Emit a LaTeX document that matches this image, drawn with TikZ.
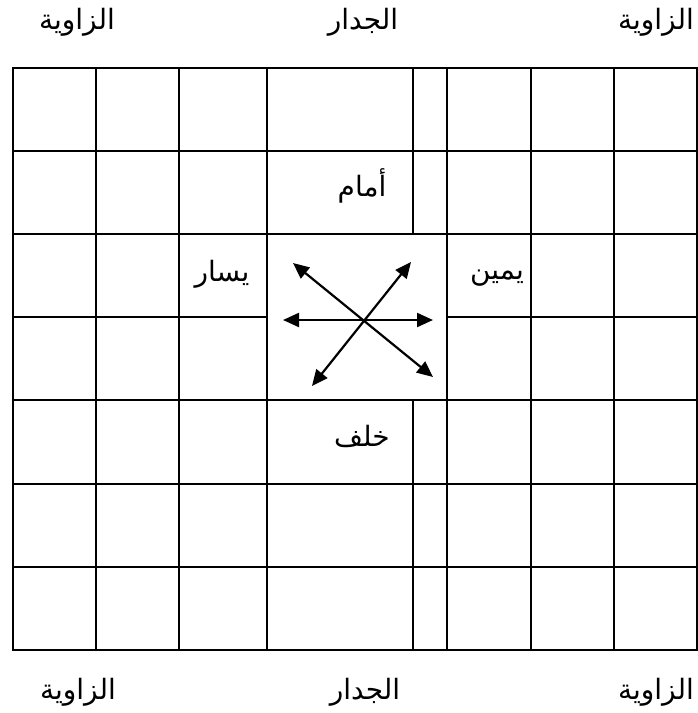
\documentclass[tikz,border=0pt]{standalone}
\usepackage{fontspec}
\usepackage{tikz}
\usetikzlibrary{arrows.meta}
\newfontfamily\arabicfont[Script=Arabic]{DejaVu Sans}
\TeXXeTstate=1
\newcommand{\ar}[1]{{\arabicfont\beginR #1\endR}}

\begin{document}
\begin{tikzpicture}[x=1pt, y=-1pt,
    gridline/.style={line width=2.2pt, line cap=rect},
    dirarrow/.style={line width=2.2pt, {Triangle[length=16pt,width=14pt]}-{Triangle[length=16pt,width=14pt]}},
    lbl/.style={font=\fontsize{28}{32}\selectfont, inner sep=0pt}]
    \useasboundingbox (0, 0) rectangle (698, 713);

    % grid lines
    \foreach \x in {13, 96, 179, 267, 447, 531, 614, 697}
        \draw[gridline] (\x, 68) -- (\x, 650);
    \foreach \y in {68, 151, 234, 400, 484, 567, 650}
        \draw[gridline] (13, \y) -- (697, \y);
    \draw[gridline] (413, 68) -- (413, 234);
    \draw[gridline] (413, 400) -- (413, 650);
    \draw[gridline] (13, 317) -- (267, 317);
    \draw[gridline] (447, 317) -- (697, 317);

    % corner and wall labels
    \node[lbl] (cornerTL) at (77, 22) {\ar{الزاوية}};
    \node[lbl] (wallT) at (363, 22) {\ar{الجدار}};
    \node[lbl] (cornerTR) at (656, 22) {\ar{الزاوية}};
    \node[lbl] (cornerBL) at (78, 692) {\ar{الزاوية}};
    \node[lbl] (wallB) at (365, 692) {\ar{الجدار}};
    \node[lbl] (cornerBR) at (656, 692) {\ar{الزاوية}};

    % direction labels
    \node[lbl] (front) at (362, 186) {\ar{أمام}};
    \node[lbl] (back) at (362, 436) {\ar{خلف}};
    \node[lbl] (left) at (222, 274) {\ar{يسار}};
    \node[lbl] (right) at (497, 278) {\ar{يمين}};

    % arrows
    \coordinate (wArr) at (283, 320);
    \coordinate (eArr) at (433, 320);
    \coordinate (nwArr) at (293, 263);
    \coordinate (seArr) at (433, 377);
    \coordinate (neArr) at (411, 262);
    \coordinate (swArr) at (312, 386);
    \draw[dirarrow] (wArr) -- (eArr);
    \draw[dirarrow] (nwArr) -- (seArr);
    \draw[dirarrow] (swArr) -- (neArr);
\end{tikzpicture}
\end{document}
